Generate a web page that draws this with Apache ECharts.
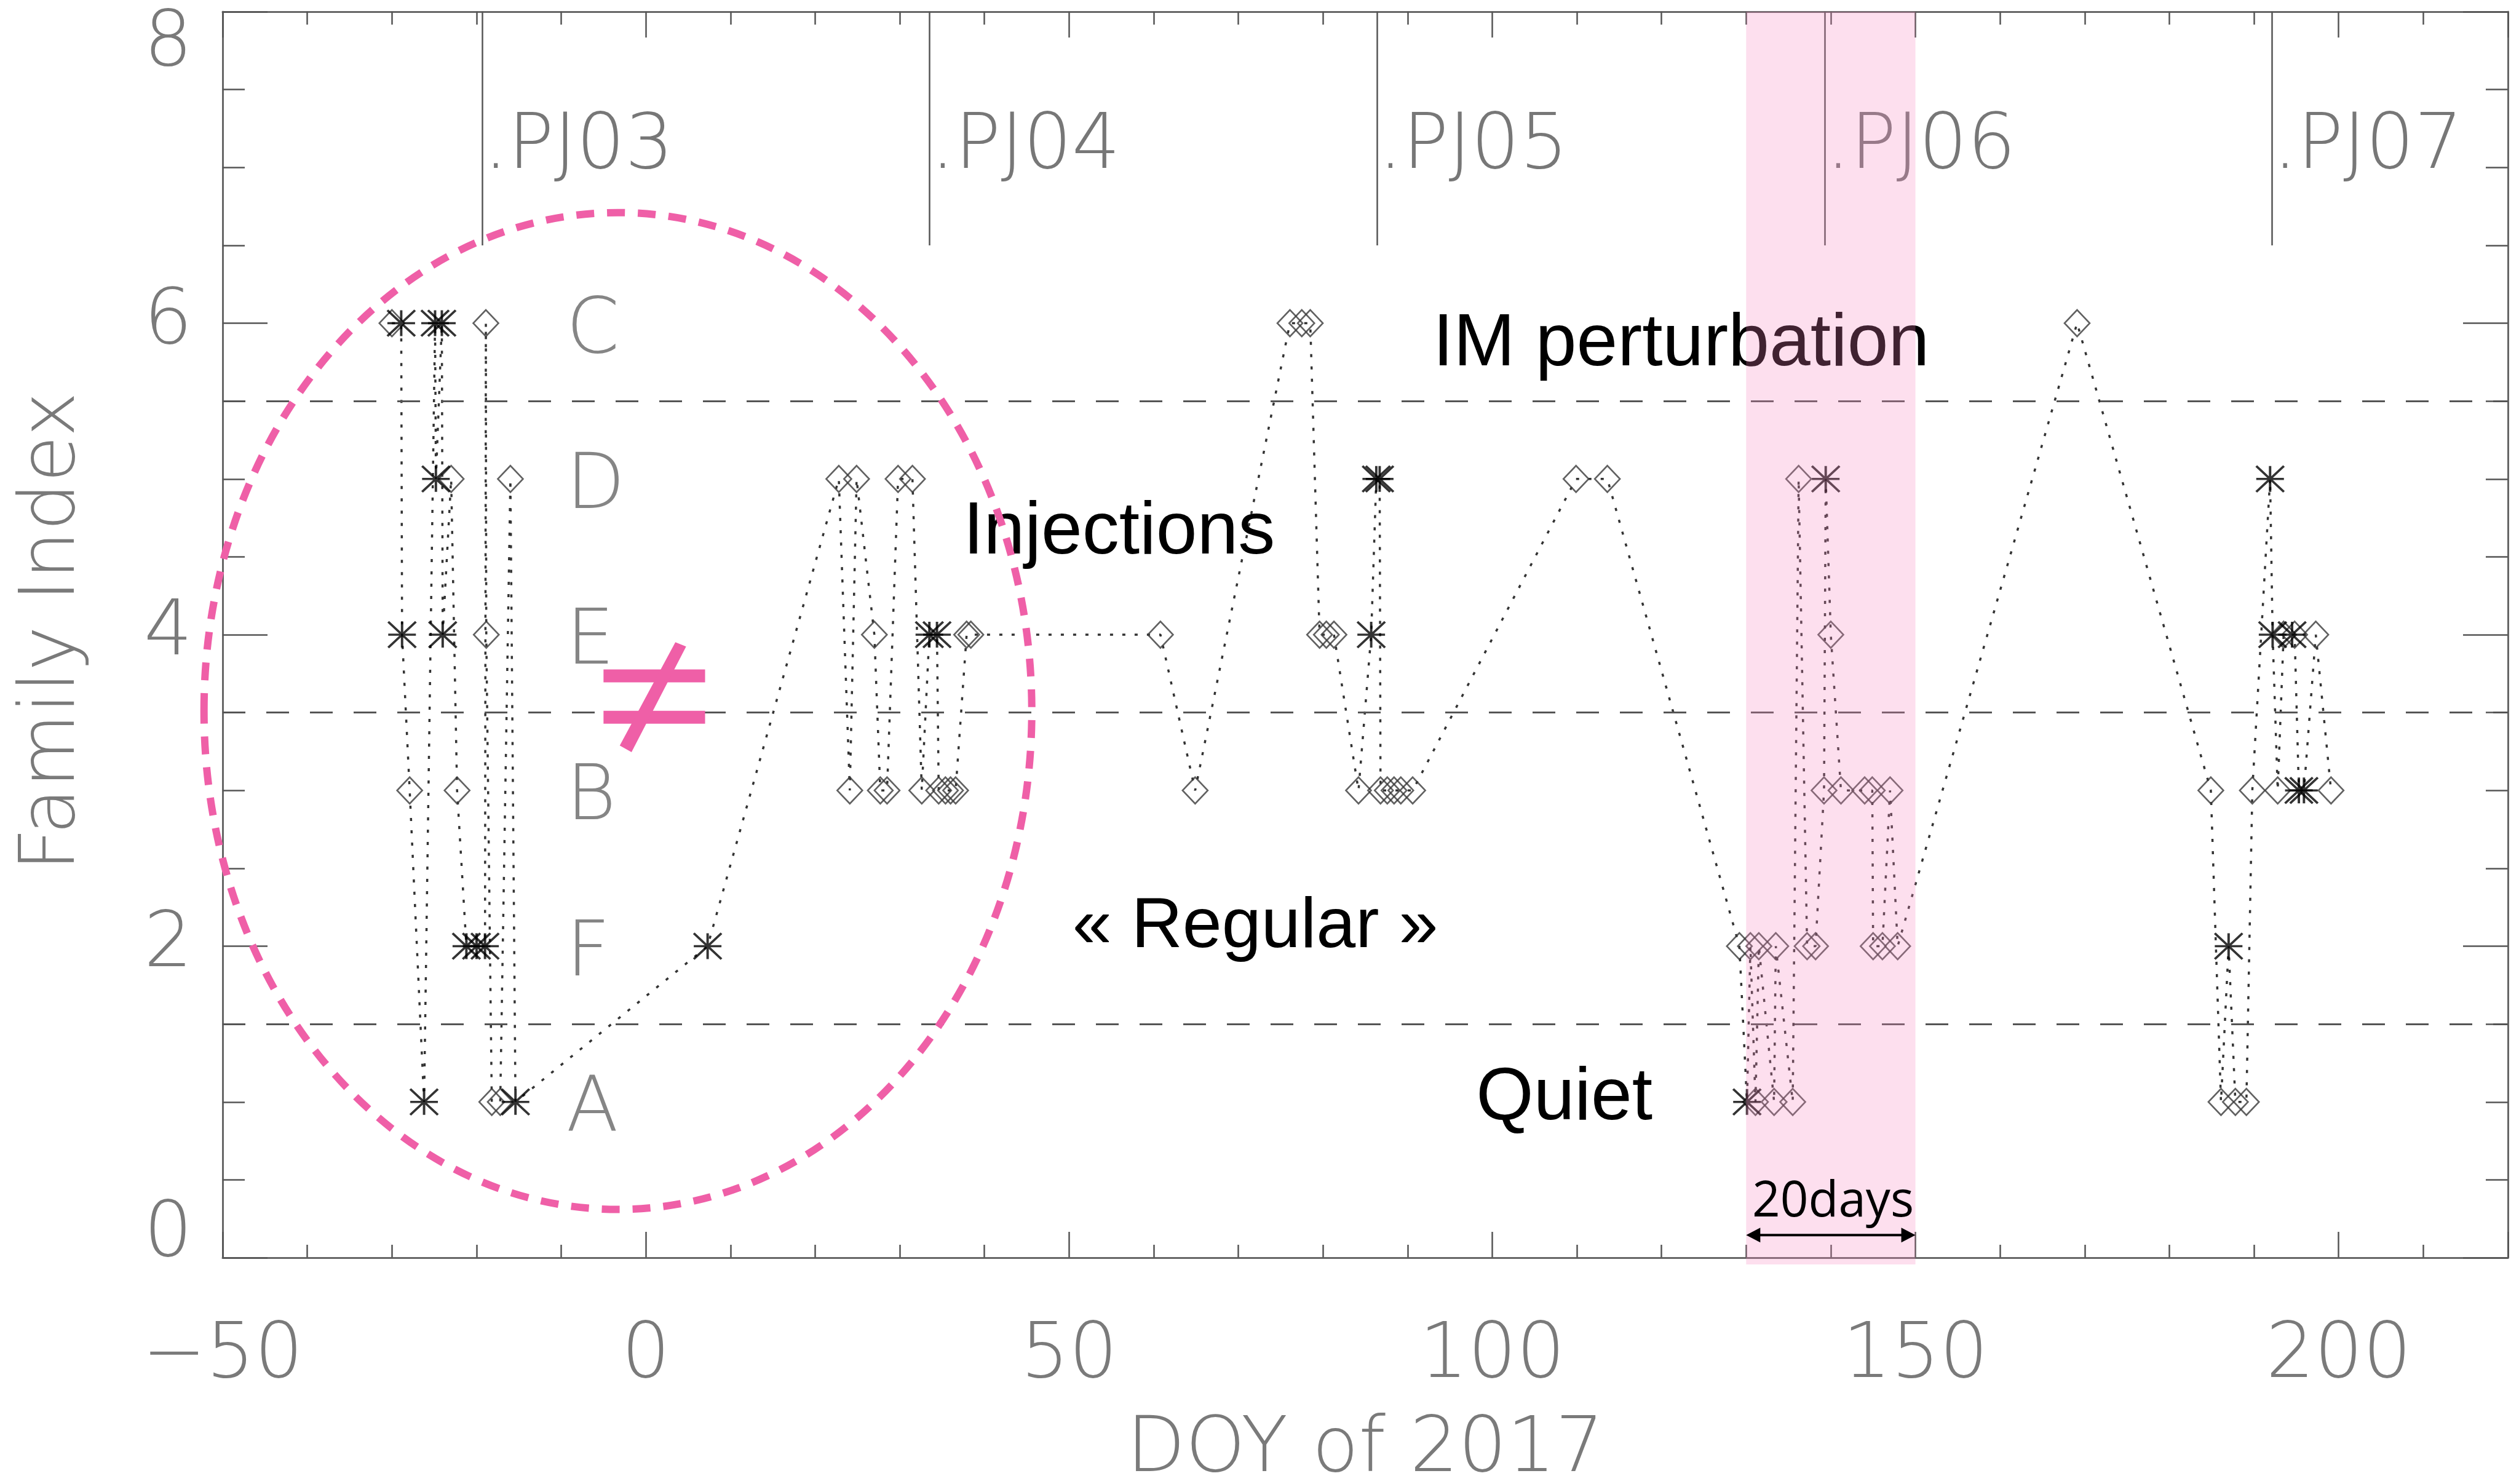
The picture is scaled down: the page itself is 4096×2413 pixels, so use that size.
<!DOCTYPE html>
<html><head><meta charset="utf-8">
<script src="https://cdn.jsdelivr.net/npm/echarts@6/dist/echarts.min.js"></script>
<style>html,body{margin:0;padding:0;background:#fff}#c{width:4096px;height:2413px}</style>
</head><body><div id="c"></div>
<script>
// ---- data ----
const doy = [-30.0,-28.9,-28.8,-27.9,-26.2,-24.9,-24.8,-24.1,-24.0,-23.0,-22.3,-21.2,-20.0,-19.0,-18.9,-18.85,-18.2,-17.2,-16.0,-15.4,
  7.3,22.8,24.1,24.9,27.0,27.7,28.5,29.8,31.5,32.6,33.5,34.4,34.6,35.4,36.0,36.6,37.9,38.4,60.8,64.9,
  76.1,77.5,78.5,79.6,80.4,81.3,84.2,85.7,86.3,86.7,86.8,87.6,88.4,89.2,90.6,109.9,113.6,129.2,130.1,130.5,
  131.1,131.5,133.3,133.5,135.5,136.2,137.2,138.2,139.2,139.4,140.0,141.2,144.0,144.9,145.0,146.1,147.0,147.9,169.1,184.9,
  186.1,187.0,187.8,189.1,189.8,191.9,192.2,192.8,193.5,194.5,194.8,195.3,195.9,197.3,199.1];
const familyIndex = [6,6,4,3,1,6,5,6,4,5,3,2,2,2,6,4,1,1,5,1,
  2,5,3,5,4,3,3,5,5,3,4,4,3,3,3,3,4,4,4,3,
  6,6,6,4,4,4,3,4,5,5,3,3,3,3,3,5,5,2,1,2,
  1,2,1,2,1,5,2,2,3,5,4,3,3,3,2,2,3,2,6,3,
  1,2,1,1,3,5,4,3,4,4,4,3,3,4,3];
const markerKind = ['D','A','A','D','A','A','A','A','A','D','D','A','A','A','D','D','D','D','D','A',
  'A','D','D','D','D','D','D','D','D','D','A','A','D','D','D','D','D','D','D','D',
  'D','D','D','D','D','D','D','A','A','A','D','D','D','D','D','D','D','D','A','D',
  'D','D','D','D','D','D','D','D','D','A','D','D','D','D','D','D','D','D','D','D',
  'D','A','D','D','D','A','A','D','D','A','D','A','A','D','D'];
const regimeBounds = [1.5, 3.5, 5.5];
const perijoveDay = [-19.3, 33.5, 86.4, 139.3, 192.1];
const perijoveName = ['.PJ03', '.PJ04', '.PJ05', '.PJ06', '.PJ07'];
const familyLetter = ['A', 'F', 'B', 'E', 'D', 'C'];   // family index 1..6
const regimeText = ['IM perturbation', 'Injections', '\u00ab Regular \u00bb', 'Quiet'];
const regimeDay = [93.0, 37.5, 50.4, 98.1];
const regimeLevel = [5.86, 4.65, 2.12, 1.02];
const highlightDays = [130, 150];

const pts = doy.map((d, i) => [d, familyIndex[i]]);
const starPts = pts.filter((p, i) => markerKind[i] === 'A');
const diaPts = pts.filter((p, i) => markerKind[i] === 'D');

const AX = '#666666', TXT = '#7a7a7a', LBLFONT = '"DejaVu Sans"', LBLW = 200;
const baseLabel = {fontFamily: LBLFONT, fontWeight: LBLW, fontSize: 124, color: TXT};

function xAxisDef(pos, showLabel) {
  return {
    type: 'value', min: -50, max: 220, interval: 50, position: pos,
    axisLine: {show: true, onZero: false, lineStyle: {color: AX, width: 3}},
    axisTick: {show: true, inside: true, length: 42, lineStyle: {color: '#555', width: 2.5}},
    minorTick: {show: true, splitNumber: 5, length: 21, lineStyle: {color: '#555', width: 2.5}},
    splitLine: {show: false}, minorSplitLine: {show: false},
    axisLabel: Object.assign({show: showLabel, margin: 100, showMaxLabel: false,
      formatter: v => String(v).replace('-', '\u2212')}, baseLabel)
  };
}
function yAxisDef(pos, showLabel) {
  return {
    type: 'value', min: 0, max: 8, interval: 2, position: pos,
    axisLine: {show: true, onZero: false, lineStyle: {color: AX, width: 3}},
    axisTick: {show: true, inside: true, length: 73, lineStyle: {color: '#555', width: 2.5}},
    minorTick: {show: true, splitNumber: 4, length: 36, lineStyle: {color: '#555', width: 2.5}},
    splitLine: {show: false}, minorSplitLine: {show: false},
    axisLabel: Object.assign({show: showLabel, margin: 49, lineHeight: 70, padding: [20, 0, 0, 0],
      verticalAlignMinLabel: 'bottom', verticalAlignMaxLabel: 'top'}, baseLabel)
  };
}

const chart = echarts.init(document.getElementById('c'), null, {renderer: 'canvas'});
chart.setOption({
  animation: false,
  backgroundColor: '#ffffff',
  grid: {left: 362, right: 18, top: 19, bottom: 368, containLabel: false, outerBoundsMode: 'none'},
  xAxis: [xAxisDef('bottom', true), xAxisDef('top', false)],
  yAxis: [yAxisDef('left', true), yAxisDef('right', false)],
  series: [
    {
      type: 'line', data: pts, showSymbol: false, symbol: 'none', z: 2, silent: true,
      lineStyle: {color: '#333', width: 3.5, type: [5, 15], cap: 'butt'},
      markLine: {
        silent: true, symbol: ['none', 'none'], label: {show: false}, animation: false,
        data: regimeBounds.map(v => ({yAxis: v, lineStyle: {color: '#555', width: 3, type: [37, 34]}}))
          .concat(perijoveDay.map(d => [{coord: [d, 6.5], lineStyle: {color: '#555', width: 2.5, type: 'solid'}}, {coord: [d, 8]}]))
      }
    },
    {
      type: 'scatter', data: diaPts, symbol: 'diamond', symbolSize: [41, 43], z: 3, silent: true,
      itemStyle: {color: 'rgba(0,0,0,0)', borderColor: '#3a3a3a', borderWidth: 2.6}
    },
    {
      type: 'scatter', data: starPts, z: 4, silent: true,
      symbol: 'path://M0,10L20,10M10,0L10,20M0,0L20,20M20,0L0,20', symbolSize: [45, 42],
      itemStyle: {color: 'rgba(0,0,0,0)', borderColor: '#000', borderWidth: 3.8}
    }
  ]
});

const P = (x, y) => chart.convertToPixel({gridIndex: 0}, [x, y]);
const g = [];
function txt(x, y, s, font, fill, align, z, rot) {
  const e = {type: 'text', x: x, y: y, z: z, silent: true,
    style: {text: s, font: font, fill: fill, align: align, verticalAlign: 'middle',
            textAlign: align, textVerticalAlign: 'middle'}};
  if (rot) e.rotation = rot;
  g.push(e);
}
const axisFont = LBLW + ' 124px ' + LBLFONT;
// family letters
familyLetter.forEach((L, i) => { const p = P(-9.4, i + 1); txt(p[0], p[1] + 15, L, axisFont, '#858585', 'left', 10); });
// perijove labels
perijoveDay.forEach((d, i) => { const p = P(d, 7.176); txt(p[0] + 2, p[1] + 13, perijoveName[i], axisFont, '#777', 'left', 10); });
// regime annotations
regimeText.forEach((s, i) => { const p = P(regimeDay[i], regimeLevel[i]);
  txt(p[0], p[1], s, (i === 2 ? '115px' : '120px') + ' "Liberation Sans", Arial, sans-serif', '#000', 'left', 10); });
// axis titles
{ const a = P(85, 0); txt(a[0], 2360, 'DOY of 2017', axisFont, TXT, 'center', 10); }
{ const a = P(0, 4); txt(88, a[1] - 5, 'Family Index', axisFont, TXT, 'center', 10, Math.PI / 2); }
// dashed ellipse
{ const c = P(-3.3, 3.51), e1 = P(-3.3 + 48.9, 3.51), e2 = P(-3.3, 3.51 + 3.2);
  g.push({type: 'ellipse', z: 40, silent: true, shape: {cx: c[0], cy: c[1], rx: e1[0] - c[0], ry: c[1] - e2[1]},
          style: {fill: 'none', stroke: '#ef5fa7', lineWidth: 12, lineDash: [29, 21]}}); }
// not-equal sign
{ const PINK = '#ef5fa7';
  [3.735, 3.47].forEach(v => { const a = P(-5.0, v), b = P(7.0, v);
    g.push({type: 'rect', z: 40, silent: true, shape: {x: a[0], y: a[1] - 10.5, width: b[0] - a[0], height: 21}, style: {fill: PINK}}); });
  const poly = [[-3.08, 3.288], [-1.69, 3.246], [4.76, 3.924], [3.49, 3.952]].map(q => P(q[0], q[1]));
  g.push({type: 'polygon', z: 41, silent: true, shape: {points: poly}, style: {fill: PINK}}); }
// highlighted 20-day window (translucent overlay)
{ const a = P(highlightDays[0], 8), b = P(highlightDays[1], 0);
  g.push({type: 'rect', z: 50, silent: true, shape: {x: a[0], y: a[1], width: b[0] - a[0], height: b[1] - a[1] + 11},
          style: {fill: 'rgba(247,130,190,0.26)'}}); }
// 20 days arrow + label
{ const a = P(highlightDays[0], 0.145), b = P(highlightDays[1], 0.145);
  const hl = 23, hh = 12;
  g.push({type: 'line', z: 60, silent: true, shape: {x1: a[0] + hl - 2, y1: a[1], x2: b[0] - hl + 2, y2: b[1]}, style: {stroke: '#000', lineWidth: 4}});
  g.push({type: 'polygon', z: 60, silent: true, shape: {points: [[a[0], a[1]], [a[0] + hl, a[1] - hh], [a[0] + hl, a[1] + hh]]}, style: {fill: '#000'}});
  g.push({type: 'polygon', z: 60, silent: true, shape: {points: [[b[0], b[1]], [b[0] - hl, b[1] - hh], [b[0] - hl, b[1] + hh]]}, style: {fill: '#000'}});
  const t = P(130.7, 0.353);
  txt(t[0], t[1], '20days', '80px "Open Sans", sans-serif', '#000', 'left', 60); }

chart.setOption({graphic: {elements: g}});
</script></body></html>
